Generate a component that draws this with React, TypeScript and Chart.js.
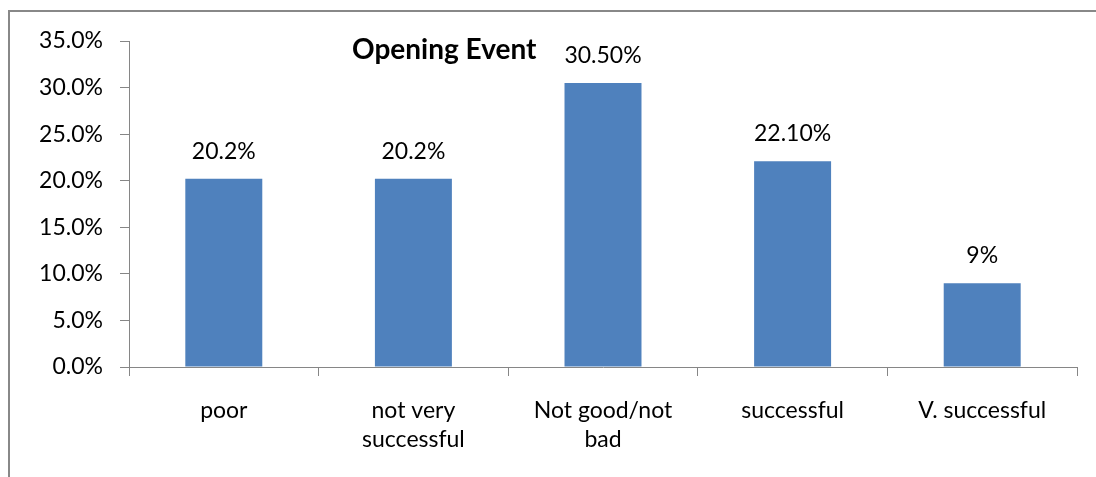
import React, { useEffect, useRef } from "react";
import { Chart, registerables } from "chart.js";

Chart.register(...registerables);

const categories: (string | string[])[] = [
  "poor",
  ["not very", "successful"],
  ["Not good/not", "bad"],
  "successful",
  "V. successful",
];
const values: number[] = [20.2, 20.2, 30.5, 22.1, 9];
const valueLabels: string[] = ["20.2%", "20.2%", "30.50%", "22.10%", "9%"];
const chartTitle = "Opening Event";
const yMin = 0;
const yMax = 35;
const yStep = 5;

const FONT = "Lato, 'Open Sans', sans-serif";
const AXIS_COLOR = "#868686";

const overlayPlugin = {
  id: "overlayText",
  afterDatasetsDraw(chart: any) {
    const ctx = chart.ctx;
    const meta = chart.getDatasetMeta(0);
    ctx.save();
    ctx.fillStyle = "#000";
    ctx.font = `23px ${FONT}`;
    ctx.textAlign = "center";
    ctx.textBaseline = "alphabetic";
    meta.data.forEach((bar: any, i: number) => {
      ctx.fillText(valueLabels[i], bar.x, bar.y - 20);
    });
    const area = chart.chartArea;
    ctx.font = `bold 28px ${FONT}`;
    ctx.fillText(chartTitle, area.left + area.width * 0.3325, 59);
    ctx.restore();
  },
};

export default function App() {
  const ref = useRef<HTMLCanvasElement | null>(null);
  useEffect(() => {
    if (!ref.current) return;
    const chart = new Chart(ref.current, {
      type: "bar",
      data: {
        labels: categories,
        datasets: [
          {
            data: values,
            backgroundColor: "#4F81BD",
            borderWidth: 0,
            barPercentage: 0.406,
            categoryPercentage: 1,
          },
        ],
      },
      options: {
        animation: false,
        responsive: false,
        maintainAspectRatio: false,
        layout: { padding: { top: 41, right: 19, left: 0, bottom: 0 } },
        plugins: {
          legend: { display: false },
          title: { display: false },
          tooltip: { enabled: false },
        },
        scales: {
          x: {
            offset: true,
            grid: {
              offset: true,
              drawOnChartArea: false,
              drawTicks: true,
              tickLength: 9,
              color: AXIS_COLOR,
            },
            border: { display: true, color: AXIS_COLOR, width: 1 },
            ticks: {
              color: "#000",
              font: { family: FONT, size: 23, lineHeight: 1.22 },
              padding: 21,
              maxRotation: 0,
              autoSkip: false,
            },
            afterFit(scale: any) {
              scale.height = 110;
            },
          },
          y: {
            min: yMin,
            max: yMax,
            grid: {
              drawOnChartArea: false,
              drawTicks: true,
              tickLength: 9,
              color: AXIS_COLOR,
            },
            border: { display: true, color: AXIS_COLOR, width: 1 },
            ticks: {
              stepSize: yStep,
              color: "#000",
              font: { family: FONT, size: 23 },
              padding: 17,
              callback: (v: any) => Number(v).toFixed(1) + "%",
            },
            afterFit(scale: any) {
              scale.width = 129;
            },
          },
        },
      },
      plugins: [overlayPlugin],
    });
    return () => chart.destroy();
  }, []);

  return (
    <>
      <div
        style={{
          position: "absolute",
          left: 8,
          top: 10,
          width: 1088,
          height: 467,
          borderTop: "2px solid #888",
          borderLeft: "2px solid #888",
          boxSizing: "border-box",
        }}
      />
      <canvas
        ref={ref}
        width={1096}
        height={477}
        style={{ position: "absolute", left: 0, top: 0, width: 1096, height: 477 }}
      />
    </>
  );
}
